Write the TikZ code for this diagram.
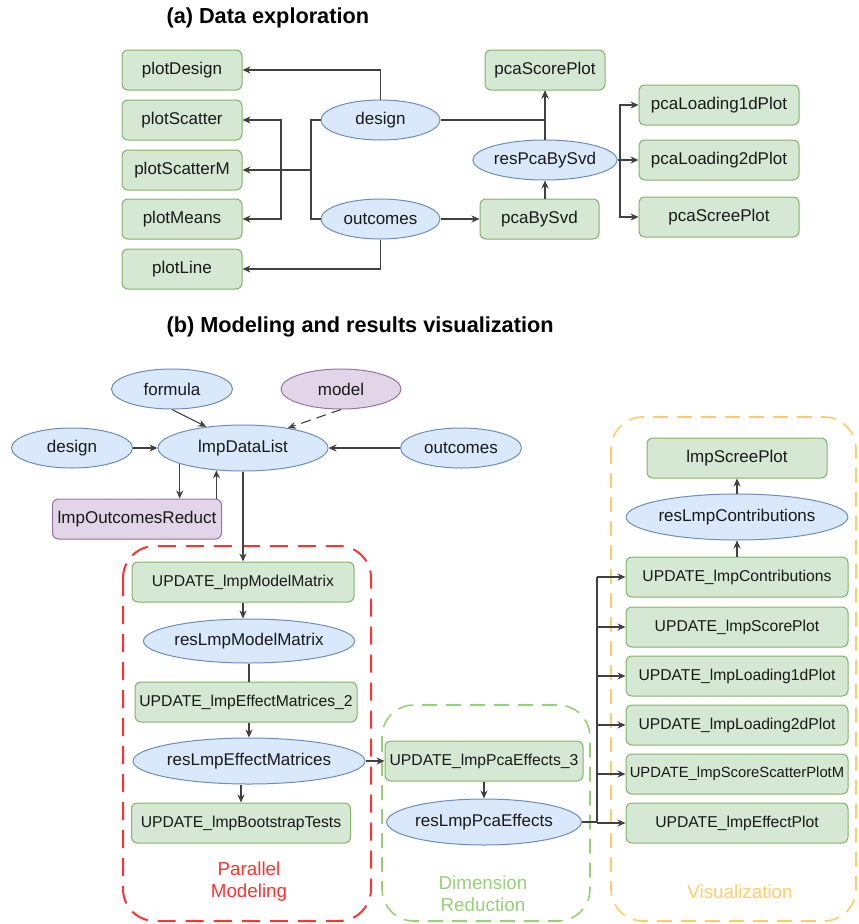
\documentclass[tikz,border=0pt]{standalone}
\usepackage{fontspec}
\setmainfont{Liberation Sans}
\usetikzlibrary{shapes.geometric,arrows.meta,calc}

\definecolor{plotfill}{HTML}{D5E8D4}
\definecolor{plotline}{HTML}{82B366}
\definecolor{objfill}{HTML}{DAE8FC}
\definecolor{objline}{HTML}{6C8EBF}
\definecolor{usrfill}{HTML}{E1D5E7}
\definecolor{usrline}{HTML}{9673A6}
\definecolor{modred}{HTML}{FF3333}
\definecolor{dimgreen}{HTML}{97D077}
\definecolor{visorange}{HTML}{FFCC66}

\tikzset{
  fn/.style={draw=plotline, fill=plotfill, rounded corners=6pt, line width=1pt,
             minimum height=40pt, inner sep=0pt, text=black!90,
             font=\fontsize{17}{20}\selectfont},
  upd/.style={fn, minimum width=222pt, font=\fontsize{15.7}{18}\selectfont},
  obj/.style={ellipse, draw=objline, fill=objfill, line width=1pt,
              minimum height=40pt, inner sep=0pt, text=black!90,
              font=\fontsize{17}{20}\selectfont},
  usr/.style={draw=usrline, fill=usrfill, line width=1pt, minimum height=40pt,
              inner sep=0pt, text=black!90, font=\fontsize{17}{20}\selectfont},
  lnk/.style={line width=1.1pt, draw=black!75},
  arr/.style={lnk, -{Stealth[length=8pt,width=7pt]}},
  grp/.style={rounded corners=32pt, line width=2pt, dash pattern=on 18pt off 10pt},
  grplabel/.style={align=center, font=\fontsize{18.8}{22}\selectfont},
  title/.style={anchor=west, font=\bfseries\fontsize{21.7}{24}\selectfont}
}

\begin{document}
\begin{tikzpicture}[x=1pt,y=-1pt]
\useasboundingbox (0,0) rectangle (859,924);

\draw[grp, draw=modred] (123,546) rectangle (371,921);
\draw[grp, draw=dimgreen, line width=1.6pt, dash pattern=on 15pt off 9pt] (382,705) rectangle (590,921);
\draw[grp, draw=visorange, line width=1.6pt, dash pattern=on 15pt off 9pt] (611,417) rectangle (856,921);

\node[title] (titleA) at (163,18) {(a) Data exploration};
\node[title] (titleB) at (163,327) {(b) Modeling and results visualization};

\foreach \name/\y in {plotDesign/70, plotScatter/120, plotScatterM/170, plotMeans/219, plotLine/269}
  {\node[fn, minimum width=120pt] (\name) at (182,\y) {\name};}

\node[obj, minimum width=119pt] (designA) at (380.5,120) {design};
\node[obj, minimum width=119pt] (outcomesA) at (380.5,219) {outcomes};
\node[fn, minimum width=120pt] (pcaScorePlot) at (545,70) {pcaScorePlot};
\node[obj, minimum width=130pt] (resPcaBySvd) at (545,160) {resPcaBySvd};
\node[fn, minimum width=119pt] (pcaBySvd) at (539.5,219) {pcaBySvd};

\foreach \name/\y in {pcaLoading1dPlot/105, pcaLoading2dPlot/160, pcaScreePlot/217}
  {\node[fn, minimum width=160pt] (\name) at (719,\y) {\name};}

\coordinate (busA) at (311,170);
\coordinate (busB) at (281,170);
\coordinate (busC) at (620,160);

\draw[arr] (designA.north) |- (plotDesign.east);
\draw[lnk] (designA.west) -| (busA) |- (outcomesA.west);
\draw[arr] (busA) -- (plotScatterM.east);
\draw[arr] (busB) |- (plotScatter.east);
\draw[arr] (busB) |- (plotMeans.east);
\draw[arr] (outcomesA.south) |- (plotLine.east);
\draw[arr] (designA.east) -| (pcaScorePlot.south);
\path (outcomesA.east) edge[arr] (pcaBySvd.west)
      (resPcaBySvd.north) edge[arr] (pcaScorePlot.south)
      (pcaBySvd.north -| resPcaBySvd) edge[arr] (resPcaBySvd.south)
      (resPcaBySvd.east) edge[arr] (pcaLoading2dPlot.west);
\draw[arr] (busC) |- (pcaLoading1dPlot.west);
\draw[arr] (busC) |- (pcaScreePlot.west);

\node[obj, minimum width=121pt] (formula) at (172,389) {formula};
\node[usr, ellipse, minimum width=120pt] (model) at (341,389) {model};
\node[obj, minimum width=121pt] (designB) at (72,448) {design};
\node[obj, minimum width=170pt, minimum height=46pt] (lmpDataList) at (243,448) {lmpDataList};
\node[obj, minimum width=121pt] (outcomesB) at (461,448) {outcomes};
\node[usr, rounded corners=6pt, minimum width=169pt] (lmpOutcomesReduct) at (137,519) {lmpOutcomesReduct};

\path (formula.south) edge[arr] (lmpDataList.150)
      (model.south) edge[arr, dash pattern=on 10pt off 6pt] (lmpDataList.24)
      (designB.east) edge[arr] (lmpDataList.west)
      (outcomesB.west) edge[arr] (lmpDataList.east)
      (lmpDataList.194) edge[arr] (lmpDataList.194 |- lmpOutcomesReduct.north)
      (lmpDataList.220 |- lmpOutcomesReduct.north) edge[arr] (lmpDataList.220);

\node[upd] (updModelMatrix) at (243,582) {UPDATE\_lmpModelMatrix};
\node[obj, minimum width=168pt, minimum height=44pt] (resLmpModelMatrix) at (249,641) {resLmpModelMatrix};
\node[upd] (updEffectMatrices) at (246,702) {UPDATE\_lmpEffectMatrices\_2};
\node[obj, minimum width=174pt, minimum height=46pt] (resLmpEffectMatrices) at (249,761) {resLmpEffectMatrices};
\node[upd, minimum width=219pt] (updBootstrapTests) at (241,823) {UPDATE\_lmpBootstrapTests};
\node[grplabel, text=modred] (parLabel) at (249,882) {Parallel\\Modeling};

\path (lmpDataList.south) edge[arr] (updModelMatrix.north)
      (updModelMatrix.south) edge[arr] (updModelMatrix.south |- resLmpModelMatrix.north)
      (resLmpModelMatrix.south) edge[lnk] (resLmpModelMatrix.south |- updEffectMatrices.north)
      (updEffectMatrices.south -| resLmpEffectMatrices) edge[arr] (resLmpEffectMatrices.north)
      (resLmpEffectMatrices.south -| updBootstrapTests) edge[arr] (updBootstrapTests.north);

\node[upd, minimum width=198pt] (updPcaEffects) at (484,761) {UPDATE\_lmpPcaEffects\_3};
\node[obj, minimum width=168pt, minimum height=46pt] (resLmpPcaEffects) at (484,822) {resLmpPcaEffects};
\node[grplabel, text=dimgreen] (dimLabel) at (483,894) {Dimension\\Reduction};

\path (resLmpEffectMatrices.east) edge[arr] (updPcaEffects.west)
      (updPcaEffects.south) edge[arr] (resLmpPcaEffects.north);

\node[fn, minimum width=180pt] (lmpScreePlot) at (737,458) {lmpScreePlot};
\node[obj, minimum width=170pt, minimum height=46pt] (resLmpContributions) at (737,517) {resLmpContributions};
\foreach \name/\y/\fs in {Contributions/577/15.7, ScorePlot/627/15.7, Loading1dPlot/676/15.7,
                          Loading2dPlot/725/15.7, ScoreScatterPlotM/774/14.8, EffectPlot/823/15.7}
  {\node[upd, font=\fontsize{\fs}{18}\selectfont] (upd\name) at (737,\y) {UPDATE\_lmp\name};}
\node[grplabel, text=visorange] (visLabel) at (740,892) {Visualization};

\coordinate (busD) at (597,822);
\path (updContributions.north) edge[arr] (resLmpContributions.south)
      (resLmpContributions.north) edge[arr] (lmpScreePlot.south);
\draw[lnk] (resLmpPcaEffects.east) -- (busD) -- (busD |- updContributions);
\foreach \name in {Contributions, ScorePlot, Loading1dPlot, Loading2dPlot, ScoreScatterPlotM, EffectPlot}
  {\draw[arr] (busD |- upd\name) -- (upd\name.west);}
\end{tikzpicture}
\end{document}
